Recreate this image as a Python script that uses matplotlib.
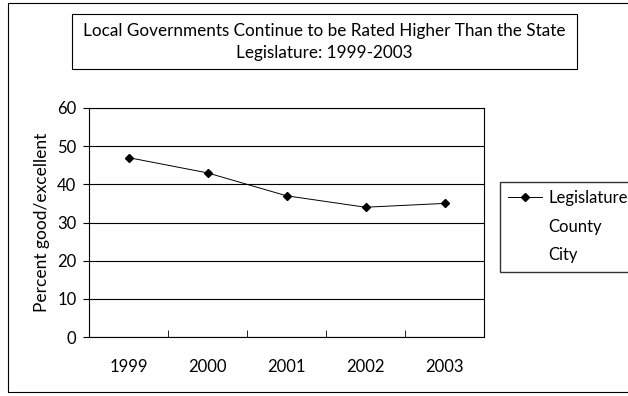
import matplotlib.pyplot as plt
from matplotlib.patches import Rectangle

years = ['1999', '2000', '2001', '2002', '2003']
legislature = [47, 43, 37, 34, 35]
series_names = ['Legislature', 'County', 'City']

plt.rcParams['font.family'] = ['Lato', 'DejaVu Sans']

fig = plt.figure(figsize=(6.28, 3.96), dpi=100)
W, H = 628, 396

# outer chart border
fig.patches.append(Rectangle((8 / W, 4 / H), 640 / W, 389 / H, transform=fig.transFigure,
                             fill=False, edgecolor='black', linewidth=0.8))

# title box
fig.patches.append(Rectangle((72 / W, 1 - 69 / H), 505 / W, 55 / H, transform=fig.transFigure,
                             fill=False, edgecolor='black', linewidth=0.8))
fig.text(324.5 / W, 1 - 42 / H,
         'Local Governments Continue to be Rated Higher Than the State\nLegislature: 1999-2003',
         ha='center', va='center', fontsize=12.3, linespacing=1.45)

ax = fig.add_axes([89 / W, 1 - 337 / H, 395 / W, 229 / H])
x = range(len(years))
ax.plot(x, legislature, color='black', linewidth=0.7, marker='D', markersize=4.5,
        label=series_names[0])
# the other two series do not show up
ax.plot([], [], color='white', linewidth=0, label=series_names[1])
ax.plot([], [], color='white', linewidth=0, label=series_names[2])

ax.set_xlim(-0.5, 4.5)
ax.set_ylim(0, 60)
ax.set_yticks(range(0, 61, 10))
ax.set_xticks(x)
ax.set_xticklabels(years)
ax.set_xticks([0.5, 1.5, 2.5, 3.5], minor=True)
ax.tick_params(axis='x', which='major', length=0, pad=16, labelsize=12)
ax.tick_params(axis='x', which='minor', length=5, direction='in')
ax.tick_params(axis='y', length=4, direction='out', labelsize=12, pad=5)
ax.grid(axis='y', color='black', linewidth=0.8)
for s in ax.spines.values():
    s.set_linewidth(0.8)
ax.set_ylabel('Percent good/excellent', fontsize=12.5, labelpad=5)

fig.legend(loc='upper left', bbox_to_anchor=(500 / W, 1 - 182 / H), frameon=True,
           fancybox=False, edgecolor='black', fontsize=12, handlelength=2.0,
           handletextpad=0.4, borderaxespad=0, labelspacing=0.75, borderpad=0.5)

fig.savefig('out.png', dpi=100)
